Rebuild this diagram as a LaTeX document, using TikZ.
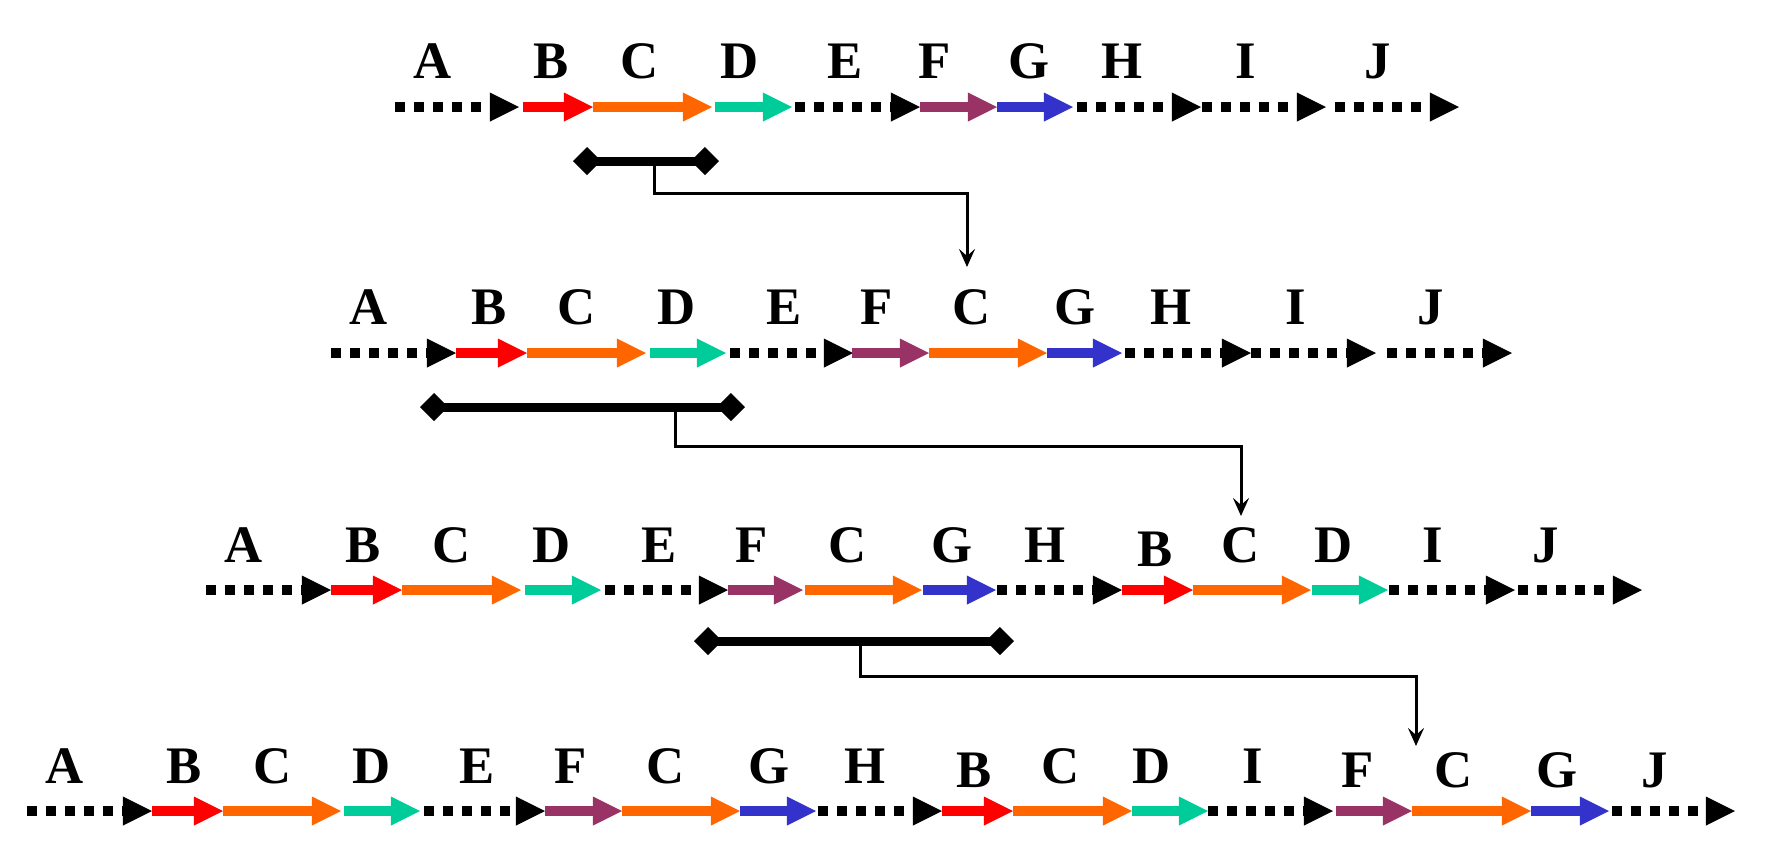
\documentclass[tikz,border=0pt]{standalone}
\usepackage{fontspec}
\setmainfont{Liberation Serif}
\usetikzlibrary{arrows.meta}
\definecolor{geneB}{HTML}{FF0000}
\definecolor{geneC}{HTML}{FF6600}
\definecolor{geneD}{HTML}{00CC99}
\definecolor{geneF}{HTML}{993366}
\definecolor{geneG}{HTML}{3333CC}

\begin{document}
\begin{tikzpicture}[x=0.01cm,y=-0.01cm,
		lab/.style={anchor=base,inner sep=0pt,font=\fontsize{15}{18}\selectfont\bfseries},
		gene/.style={line width=0.1cm,-{Triangle[length=0.29cm,width=0.29cm,line width=0pt]}},
		dotgene/.style={gene,black,dash pattern=on 0.1cm off 0.09cm},
		cut/.style={line width=0.09cm,{Diamond[length=0.28cm,width=0.28cm,line width=0pt]}-{Diamond[length=0.28cm,width=0.28cm,line width=0pt]}},
		link/.style={line width=0.03cm,-{Stealth[length=0.18cm,width=0.16cm,inset=0.07cm]}}]
			\useasboundingbox ( 0 , 0 ) rectangle ( 1768 , 860 );
			% row 1
			\draw[dotgene] ( 395 , 107 )--( 519 , 107 );
			\draw[gene,geneB] ( 523 , 107 )--( 593 , 107 );
			\draw[gene,geneC] ( 593 , 107 )--( 712 , 107 );
			\draw[gene,geneD] ( 715 , 107 )--( 792 , 107 );
			\draw[dotgene] ( 795 , 107 )--( 920 , 107 );
			\draw[gene,geneF] ( 920 , 107 )--( 997 , 107 );
			\draw[gene,geneG] ( 997 , 107 )--( 1073 , 107 );
			\draw[dotgene] ( 1077 , 107 )--( 1201 , 107 );
			\draw[dotgene] ( 1202 , 107 )--( 1326 , 107 );
			\draw[dotgene] ( 1335 , 107 )--( 1459 , 107 );
			\node[lab] (r1A) at ( 433 , 78 ) {A};
			\node[lab] (r1B) at ( 551 , 78 ) {B};
			\node[lab] (r1C) at ( 640 , 78 ) {C};
			\node[lab] (r1D) at ( 740 , 78 ) {D};
			\node[lab] (r1E) at ( 845 , 78 ) {E};
			\node[lab] (r1F) at ( 935 , 78 ) {F};
			\node[lab] (r1G) at ( 1029 , 78 ) {G};
			\node[lab] (r1H) at ( 1122 , 78 ) {H};
			\node[lab] (r1I) at ( 1246 , 78 ) {I};
			\node[lab] (r1J) at ( 1378 , 78 ) {J};
			\draw[cut] ( 573 , 161 )--( 719 , 161 );
			\coordinate (cut1) at ( 654 , 161 );
			\coordinate (ins1) at ( 967 , 267 );
			\draw[link] (cut1)--++( 0 , 32 ) -| (ins1);
			% row 2
			\draw[dotgene] ( 331 , 353 )--( 456 , 353 );
			\draw[gene,geneB] ( 456 , 353 )--( 527 , 353 );
			\draw[gene,geneC] ( 527 , 353 )--( 646 , 353 );
			\draw[gene,geneD] ( 650 , 353 )--( 726 , 353 );
			\draw[dotgene] ( 730 , 353 )--( 853 , 353 );
			\draw[gene,geneF] ( 852 , 353 )--( 929 , 353 );
			\draw[gene,geneC] ( 929 , 353 )--( 1047 , 353 );
			\draw[gene,geneG] ( 1047 , 353 )--( 1122 , 353 );
			\draw[dotgene] ( 1125 , 353 )--( 1251 , 353 );
			\draw[dotgene] ( 1251 , 353 )--( 1376 , 353 );
			\draw[dotgene] ( 1387 , 353 )--( 1512 , 353 );
			\node[lab] (r2A) at ( 369 , 324 ) {A};
			\node[lab] (r2B) at ( 489 , 324 ) {B};
			\node[lab] (r2C) at ( 577 , 324 ) {C};
			\node[lab] (r2D) at ( 677 , 324 ) {D};
			\node[lab] (r2E) at ( 784 , 324 ) {E};
			\node[lab] (r2F) at ( 877 , 324 ) {F};
			\node[lab] (r2C2) at ( 972 , 324 ) {C};
			\node[lab] (r2G) at ( 1075 , 324 ) {G};
			\node[lab] (r2H) at ( 1171 , 324 ) {H};
			\node[lab] (r2I) at ( 1296 , 324 ) {I};
			\node[lab] (r2J) at ( 1431 , 324 ) {J};
			\draw[cut] ( 420 , 407 )--( 745 , 407 );
			\coordinate (cut2) at ( 675 , 407 );
			\coordinate (ins2) at ( 1241 , 516 );
			\draw[link] (cut2)--++( 0 , 39 ) -| (ins2);
			% row 3
			\draw[dotgene] ( 206 , 590 )--( 331 , 590 );
			\draw[gene,geneB] ( 331 , 590 )--( 402 , 590 );
			\draw[gene,geneC] ( 402 , 590 )--( 521 , 590 );
			\draw[gene,geneD] ( 525 , 590 )--( 601 , 590 );
			\draw[dotgene] ( 605 , 590 )--( 728 , 590 );
			\draw[gene,geneF] ( 728 , 590 )--( 803 , 590 );
			\draw[gene,geneC] ( 805 , 590 )--( 922 , 590 );
			\draw[gene,geneG] ( 923 , 590 )--( 996 , 590 );
			\draw[dotgene] ( 997 , 590 )--( 1122 , 590 );
			\draw[gene,geneB] ( 1122 , 590 )--( 1193 , 590 );
			\draw[gene,geneC] ( 1193 , 590 )--( 1311 , 590 );
			\draw[gene,geneD] ( 1312 , 590 )--( 1388 , 590 );
			\draw[dotgene] ( 1389 , 590 )--( 1515 , 590 );
			\draw[dotgene] ( 1518 , 590 )--( 1642 , 590 );
			\node[lab] (r3A) at ( 244 , 562 ) {A};
			\node[lab] (r3B) at ( 363 , 562 ) {B};
			\node[lab] (r3C) at ( 452 , 562 ) {C};
			\node[lab] (r3D) at ( 552 , 562 ) {D};
			\node[lab] (r3E) at ( 659 , 562 ) {E};
			\node[lab] (r3F) at ( 752 , 562 ) {F};
			\node[lab] (r3C2) at ( 848 , 562 ) {C};
			\node[lab] (r3G) at ( 952 , 562 ) {G};
			\node[lab] (r3H) at ( 1045 , 562 ) {H};
			\node[lab] (r3B2) at ( 1155 , 566 ) {B};
			\node[lab] (r3C3) at ( 1241 , 562 ) {C};
			\node[lab] (r3D2) at ( 1334 , 562 ) {D};
			\node[lab] (r3I) at ( 1433 , 562 ) {I};
			\node[lab] (r3J) at ( 1546 , 562 ) {J};
			\draw[cut] ( 694 , 641 )--( 1014 , 641 );
			\coordinate (cut3) at ( 860 , 641 );
			\coordinate (ins3) at ( 1416 , 746 );
			\draw[link] (cut3)--++( 0 , 35 ) -| (ins3);
			% row 4
			\draw[dotgene] ( 27 , 811 )--( 152 , 811 );
			\draw[gene,geneB] ( 152 , 811 )--( 223 , 811 );
			\draw[gene,geneC] ( 223 , 811 )--( 341 , 811 );
			\draw[gene,geneD] ( 344 , 811 )--( 420 , 811 );
			\draw[dotgene] ( 424 , 811 )--( 545 , 811 );
			\draw[gene,geneF] ( 545 , 811 )--( 622 , 811 );
			\draw[gene,geneC] ( 622 , 811 )--( 740 , 811 );
			\draw[gene,geneG] ( 740 , 811 )--( 816 , 811 );
			\draw[dotgene] ( 818 , 811 )--( 942 , 811 );
			\draw[gene,geneB] ( 942 , 811 )--( 1013 , 811 );
			\draw[gene,geneC] ( 1013 , 811 )--( 1132 , 811 );
			\draw[gene,geneD] ( 1132 , 811 )--( 1208 , 811 );
			\draw[dotgene] ( 1208 , 811 )--( 1333 , 811 );
			\draw[gene,geneF] ( 1336 , 811 )--( 1412 , 811 );
			\draw[gene,geneC] ( 1412 , 811 )--( 1531 , 811 );
			\draw[gene,geneG] ( 1531 , 811 )--( 1609 , 811 );
			\draw[dotgene] ( 1612 , 811 )--( 1735 , 811 );
			\node[lab] (r4A) at ( 65 , 783 ) {A};
			\node[lab] (r4B) at ( 184 , 783 ) {B};
			\node[lab] (r4C) at ( 273 , 783 ) {C};
			\node[lab] (r4D) at ( 372 , 783 ) {D};
			\node[lab] (r4E) at ( 477 , 783 ) {E};
			\node[lab] (r4F) at ( 571 , 783 ) {F};
			\node[lab] (r4C2) at ( 666 , 783 ) {C};
			\node[lab] (r4G) at ( 769 , 783 ) {G};
			\node[lab] (r4H) at ( 865 , 783 ) {H};
			\node[lab] (r4B2) at ( 974 , 787 ) {B};
			\node[lab] (r4C3) at ( 1061 , 783 ) {C};
			\node[lab] (r4D2) at ( 1152 , 783 ) {D};
			\node[lab] (r4I) at ( 1253 , 783 ) {I};
			\node[lab] (r4F2) at ( 1358 , 787 ) {F};
			\node[lab] (r4C4) at ( 1454 , 787 ) {C};
			\node[lab] (r4G2) at ( 1557 , 787 ) {G};
			\node[lab] (r4J) at ( 1655 , 787 ) {J};
		\end{tikzpicture}
\end{document}
